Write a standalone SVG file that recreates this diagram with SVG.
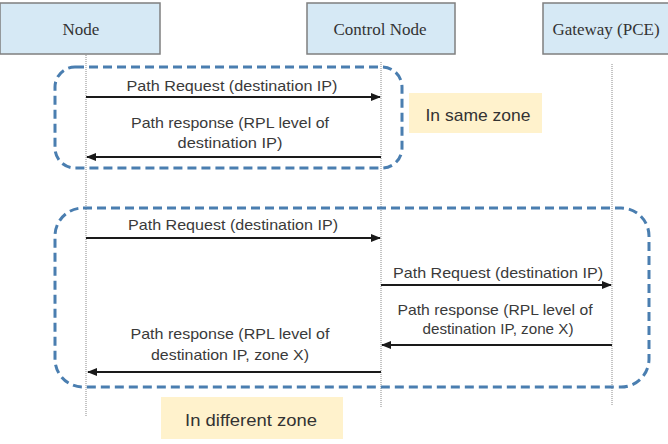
<svg xmlns="http://www.w3.org/2000/svg" width="668" height="444" viewBox="0 0 668 444">
  <defs>
    <marker id="ah" markerWidth="10" markerHeight="8" refX="9" refY="4" orient="auto" markerUnits="userSpaceOnUse">
      <path d="M0,0 L10,4 L0,8 Z" fill="#1a1a1a"/>
    </marker>
  </defs>
  <style>
    .hdr { fill: #d6e9f5; stroke: #7f7f7f; stroke-width: 1.5; }
    .hdrtxt { font-family: "Liberation Serif", "Times New Roman", serif; font-size: 17px; fill: #333; text-anchor: middle; }
    .life { stroke: #8a8a8a; stroke-width: 1; stroke-dasharray: 1 1; fill: none; }
    .msg { stroke: #1a1a1a; stroke-width: 2; fill: none; marker-end: url(#ah); }
    .lbl { font-family: "Liberation Sans", Arial, sans-serif; font-size: 15px; fill: #3a3a3a; text-anchor: middle; }
    .zone { fill: none; stroke: #4a7eb0; stroke-width: 3; stroke-dasharray: 9 5; }
    .note { fill: #fff2cc; stroke: none; }
    .notetxt { font-family: "Liberation Sans", Arial, sans-serif; font-size: 17px; fill: #333; text-anchor: middle; }
  </style>
  <rect width="668" height="444" fill="#ffffff"/>

  <g id="node-node">
    <rect class="hdr" x="0" y="3" width="160" height="51"/>
    <text class="hdrtxt" x="81" y="35">Node</text>
  </g>
  <g id="node-control">
    <rect class="hdr" x="307" y="3" width="148" height="51"/>
    <text class="hdrtxt" x="380" y="35">Control Node</text>
  </g>
  <g id="node-gateway">
    <rect class="hdr" x="543" y="3" width="130" height="51"/>
    <text class="hdrtxt" x="606" y="35">Gateway (PCE)</text>
  </g>

  <g id="lifelines">
    <line class="life" x1="86" y1="55" x2="86" y2="417"/>
    <line class="life" x1="381" y1="62" x2="381" y2="407"/>
    <line class="life" x1="612" y1="64" x2="612" y2="405"/>
  </g>

  <g id="zone-same">
    <rect class="zone" x="55" y="67" width="347" height="101" rx="20" ry="20"/>
  </g>
  <g id="zone-different">
    <rect class="zone" x="55" y="208" width="594" height="179" rx="28" ry="28"/>
  </g>

  <g id="note-same">
    <rect class="note" x="409" y="93" width="133" height="40"/>
    <text class="notetxt" x="478" y="121" textLength="105" lengthAdjust="spacingAndGlyphs">In same zone</text>
  </g>
  <g id="note-different">
    <rect class="note" x="161" y="397" width="182" height="42"/>
    <text class="notetxt" x="251" y="426" textLength="132" lengthAdjust="spacingAndGlyphs">In different zone</text>
  </g>

  <g id="connectors">
    <line class="msg" x1="86" y1="97" x2="380" y2="97"/>
    <text class="lbl" x="232" y="91" textLength="211" lengthAdjust="spacingAndGlyphs">Path Request (destination IP)</text>

    <line class="msg" x1="381" y1="157" x2="87" y2="157"/>
    <text class="lbl" x="230" y="128" textLength="198" lengthAdjust="spacingAndGlyphs">Path response (RPL level of</text>
    <text class="lbl" x="230" y="148" textLength="105" lengthAdjust="spacingAndGlyphs">destination IP)</text>

    <line class="msg" x1="86" y1="238" x2="380" y2="238"/>
    <text class="lbl" x="233" y="230" textLength="210" lengthAdjust="spacingAndGlyphs">Path Request (destination IP)</text>

    <line class="msg" x1="381" y1="285" x2="611" y2="285"/>
    <text class="lbl" x="498" y="278" textLength="210" lengthAdjust="spacingAndGlyphs">Path Request (destination IP)</text>

    <line class="msg" x1="612" y1="345" x2="382" y2="345"/>
    <text class="lbl" x="495" y="315" textLength="195" lengthAdjust="spacingAndGlyphs">Path response (RPL level of</text>
    <text class="lbl" x="498" y="334" textLength="151" lengthAdjust="spacingAndGlyphs">destination IP, zone X)</text>

    <line class="msg" x1="381" y1="372" x2="88" y2="372"/>
    <text class="lbl" x="230" y="339" textLength="199" lengthAdjust="spacingAndGlyphs">Path response (RPL level of</text>
    <text class="lbl" x="230" y="360" textLength="158" lengthAdjust="spacingAndGlyphs">destination IP, zone X)</text>
  </g>
</svg>
